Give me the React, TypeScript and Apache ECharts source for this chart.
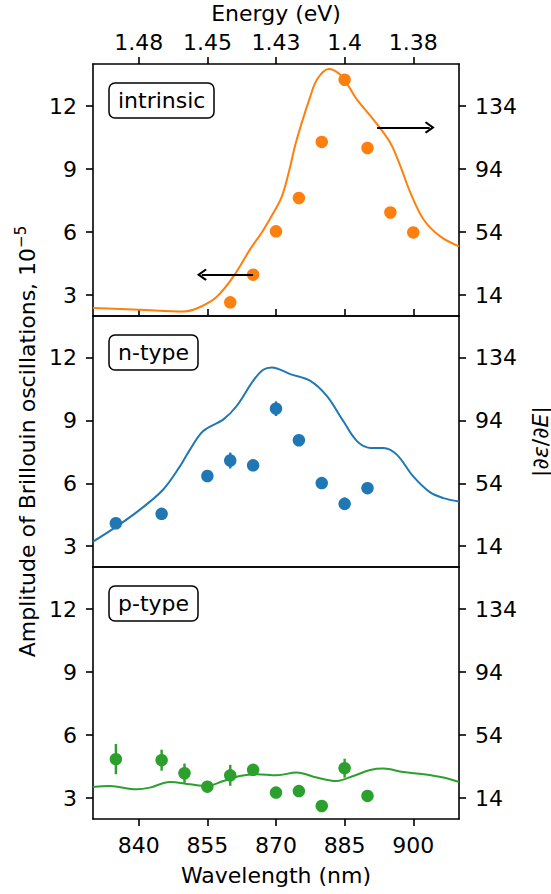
import React, { useEffect, useRef } from "react";
import * as echarts from "echarts";

// ---------- data ----------
const xTicks = [840, 855, 870, 885, 900];
const energyLabels = ["1.48", "1.45", "1.43", "1.4", "1.38"];
const leftTicks = [3, 6, 9, 12];
const rightTicks = [14, 54, 94, 134];

// intrinsic
const intrinsicWl = [860, 865, 870, 875, 880, 885, 890, 895, 900];
const intrinsicAmp = [2.65, 3.97, 6.03, 7.62, 10.29, 13.25, 10.0, 6.93, 5.98];
const intrinsicErr = [0, 0, 0, 0, 0, 0, 0, 0, 0];
const intrinsicCurveWl = [830, 840, 850, 853.4, 857, 860.7, 864.3, 867, 869, 871.2, 872.8, 874.4, 877.5, 879, 881.5, 884, 886, 887.7, 891.3, 895, 897.2, 899.4, 902.3, 905.9, 910];
const intrinsicCurve = [5.7, 4.7, 3.6, 6.4, 12.7, 25.8, 42.8, 54.2, 64, 76, 92, 111.3, 140.1, 151, 157.5, 154, 146, 138, 125.3, 110.5, 95.7, 78.8, 61.8, 51.2, 44.9];

// n-type
const nWl = [835, 845, 855, 860, 865, 870, 875, 880, 885, 890];
const nAmp = [4.09, 4.54, 6.35, 7.09, 6.86, 9.57, 8.06, 6.01, 5.02, 5.77];
const nErr = [0.15, 0.15, 0.15, 0.38, 0.15, 0.35, 0.15, 0.15, 0.3, 0.15];
const nCurveWl = [830, 835.1, 840.2, 845.3, 849, 851.2, 854.1, 858.5, 861.4, 865, 867.2, 869.1, 873.1, 877.5, 881.1, 884.7, 887.7, 890.6, 893.5, 896.4, 900, 903.7, 906.6, 910];
const nCurve = [16.8, 26.4, 37.1, 49.9, 64.8, 75.5, 87.3, 94.8, 103.3, 119.3, 126.4, 127.9, 123.6, 119.3, 109.7, 93.7, 80.9, 76.6, 76.6, 72.3, 58.4, 48.2, 44.6, 42.4];

// p-type
const pWl = [835, 845, 850, 855, 860, 865, 870, 875, 880, 885, 890];
const pAmp = [4.85, 4.8, 4.18, 3.54, 4.08, 4.34, 3.26, 3.33, 2.62, 4.42, 3.1];
const pErr = [0.72, 0.5, 0.46, 0.15, 0.5, 0.15, 0.1, 0.1, 0.1, 0.45, 0.1];
const pCurveWl = [830, 833.7, 839.5, 842.4, 846.8, 851.2, 854.8, 858.5, 862.1, 865.8, 870.2, 874.5, 878.9, 883.3, 886.9, 890.6, 893.5, 897.8, 902.3, 906.6, 910];
const pCurve = [21, 21.6, 19.5, 20.6, 24.2, 22.7, 21.6, 24.8, 28, 29.1, 28.4, 30.2, 27, 24.8, 28, 31.8, 32.7, 30.5, 29.1, 27, 24.2];

// arrows (left-axis data units): [start, end]
const arrowToLeft = [[865, 3.97], [853.8, 3.97]];
const arrowToRight = [[892.1, 10.98], [903.6, 10.98]];

const panelNames = ["intrinsic", "n-type", "p-type"];
const colors = ["#ff7f0e", "#1f77b4", "#2ca02c"];

// ---------- layout / style ----------
const FONT = "DejaVu Sans";
const FS = 22;
const LEFT = 93;
const PLOT_W = 366;
const TOPS = [64, 316, 567];
const HEIGHTS = [252, 251, 252];
const X_MIN = 830;
const X_MAX = 910;
const Y_MIN = 2;
const Y_MAX = 14;
const toRight = (v: number) => 14 + ((v - 3) * 40) / 3;
const AXIS_LINE = { color: "#000", width: 1.6 };

export default function App() {
  const ref = useRef<HTMLDivElement>(null);

  useEffect(() => {
    if (!ref.current) return;
    const chart = echarts.init(ref.current, undefined, { renderer: "svg" });

    const grids = TOPS.map((t, i) => ({
      left: LEFT,
      top: t,
      width: PLOT_W,
      height: HEIGHTS[i],
      containLabel: false,
      outerBoundsMode: "none",
    }));

    const labelStyle = { fontSize: FS, color: "#000", fontFamily: FONT };

    const xAxes: any[] = [];
    const yAxes: any[] = [];
    for (let g = 0; g < 3; g++) {
      // bottom
      xAxes.push({
        type: "value",
        gridIndex: g,
        position: "bottom",
        min: X_MIN,
        max: X_MAX,
        axisLine: { show: true, onZero: false, lineStyle: AXIS_LINE },
        axisTick: {
          show: g !== 1,
          inside: g === 0,
          length: 7,
          customValues: xTicks,
          lineStyle: AXIS_LINE,
        },
        axisLabel: {
          show: g === 2,
          customValues: xTicks,
          margin: 15,
          ...labelStyle,
        },
        splitLine: { show: false },
        name: g === 2 ? "Wavelength (nm)" : "",
        nameLocation: "middle",
        nameGap: 45,
        nameTextStyle: labelStyle,
      });
      // top
      xAxes.push({
        type: "value",
        gridIndex: g,
        position: "top",
        min: X_MIN,
        max: X_MAX,
        axisLine: { show: true, onZero: false, lineStyle: AXIS_LINE },
        axisTick: {
          show: g === 0,
          length: 7,
          customValues: xTicks,
          lineStyle: AXIS_LINE,
        },
        axisLabel: {
          show: g === 0,
          customValues: xTicks,
          margin: 11,
          formatter: (v: number) => {
            const idx = xTicks.indexOf(Math.round(v));
            return idx >= 0 ? energyLabels[idx] : "";
          },
          ...labelStyle,
        },
        splitLine: { show: false },
        name: g === 0 ? "Energy (eV)" : "",
        nameLocation: "middle",
        nameGap: 40,
        nameTextStyle: labelStyle,
      });
      // left
      yAxes.push({
        type: "value",
        gridIndex: g,
        position: "left",
        min: Y_MIN,
        max: Y_MAX,
        axisLine: { show: true, onZero: false, lineStyle: AXIS_LINE },
        axisTick: { show: true, length: 7, customValues: leftTicks, lineStyle: AXIS_LINE },
        axisLabel: { customValues: leftTicks, margin: 16, ...labelStyle },
        splitLine: { show: false },
        name: g === 1 ? "Amplitude of Brillouin oscillations, 10{sup|\u22125}" : "",
        nameLocation: "middle",
        nameRotate: 90,
        nameGap: 52,
        nameTextStyle: {
          ...labelStyle,
          rich: {
            sup: { fontSize: 15, fontFamily: FONT, color: "#000", padding: [0, 0, 12, 0] },
          },
        },
      });
      // right
      yAxes.push({
        type: "value",
        gridIndex: g,
        position: "right",
        min: toRight(Y_MIN),
        max: toRight(Y_MAX),
        axisLine: { show: true, onZero: false, lineStyle: AXIS_LINE },
        axisTick: { show: true, length: 7, customValues: rightTicks, lineStyle: AXIS_LINE },
        axisLabel: { customValues: rightTicks, margin: 16, ...labelStyle },
        splitLine: { show: false },
        name: g === 1 ? "|{it|\u2202\u03b5}/{it|\u2202E}|" : "",
        nameLocation: "middle",
        nameRotate: 90,
        nameGap: 70,
        nameTextStyle: {
          ...labelStyle,
          rich: { it: { fontStyle: "italic", fontSize: FS, fontFamily: FONT, color: "#000" } },
        },
      });
    }

    const panels = [
      { wl: intrinsicWl, amp: intrinsicAmp, err: intrinsicErr, cwl: intrinsicCurveWl, c: intrinsicCurve },
      { wl: nWl, amp: nAmp, err: nErr, cwl: nCurveWl, c: nCurve },
      { wl: pWl, amp: pAmp, err: pErr, cwl: pCurveWl, c: pCurve },
    ];

    const series: any[] = [];
    panels.forEach((p, g) => {
      const color = colors[g];
      series.push({
        type: "line",
        xAxisIndex: g * 2,
        yAxisIndex: g * 2 + 1,
        data: p.cwl.map((w, i) => [w, p.c[i]]),
        smooth: 0.35,
        showSymbol: false,
        symbol: "none",
        clip: true,
        lineStyle: { color, width: 2 },
        z: 2,
      });
      series.push({
        type: "custom",
        xAxisIndex: g * 2,
        yAxisIndex: g * 2,
        data: p.wl.map((w, i) => [w, p.amp[i], p.err[i]]),
        encode: { x: 0, y: 1 },
        renderItem: (_params: any, api: any) => {
          const x = api.value(0);
          const y = api.value(1);
          const e = api.value(2);
          if (!e) return null;
          const a = api.coord([x, y - e]);
          const b = api.coord([x, y + e]);
          return {
            type: "line",
            shape: { x1: a[0], y1: a[1], x2: b[0], y2: b[1] },
            style: { stroke: color, lineWidth: 2.4 },
          };
        },
        z: 3,
      });
      const scatter: any = {
        type: "scatter",
        xAxisIndex: g * 2,
        yAxisIndex: g * 2,
        data: p.wl.map((w, i) => [w, p.amp[i]]),
        symbolSize: 12.5,
        itemStyle: { color, opacity: 1 },
        z: 4,
      };
      if (g === 0) {
        scatter.markLine = {
          silent: true,
          symbol: ["none", "path://M5,0 L10,7 L8.8,8.3 L5,2.9 L1.2,8.3 L0,7 Z"],
          symbolSize: [12, 10],
          lineStyle: { color: "#000", width: 1.8, type: "solid" },
          label: { show: false },
          emphasis: { disabled: true },
          data: [
            [{ coord: arrowToLeft[0] }, { coord: arrowToLeft[1] }],
            [{ coord: arrowToRight[0] }, { coord: arrowToRight[1] }],
          ],
        };
      }
      series.push(scatter);
    });

    const titles = panelNames.map((name, g) => ({
      text: name,
      left: 109,
      top: TOPS[g] + 19,
      padding: [5, 9, 5, 9],
      borderColor: "#000",
      borderWidth: 1.5,
      borderRadius: 6,
      backgroundColor: "#fff",
      textStyle: { fontSize: FS, fontWeight: "normal", fontFamily: FONT, color: "#000", lineHeight: 25 },
    }));

    chart.setOption({
      animation: false,
      backgroundColor: "#fff",
      title: titles,
      grid: grids,
      xAxis: xAxes,
      yAxis: yAxes,
      series,
    });

    return () => chart.dispose();
  }, []);

  return (
    <div
      ref={ref}
      style={{ position: "absolute", left: 0, top: 0, width: 551, height: 894 }}
    />
  );
}
